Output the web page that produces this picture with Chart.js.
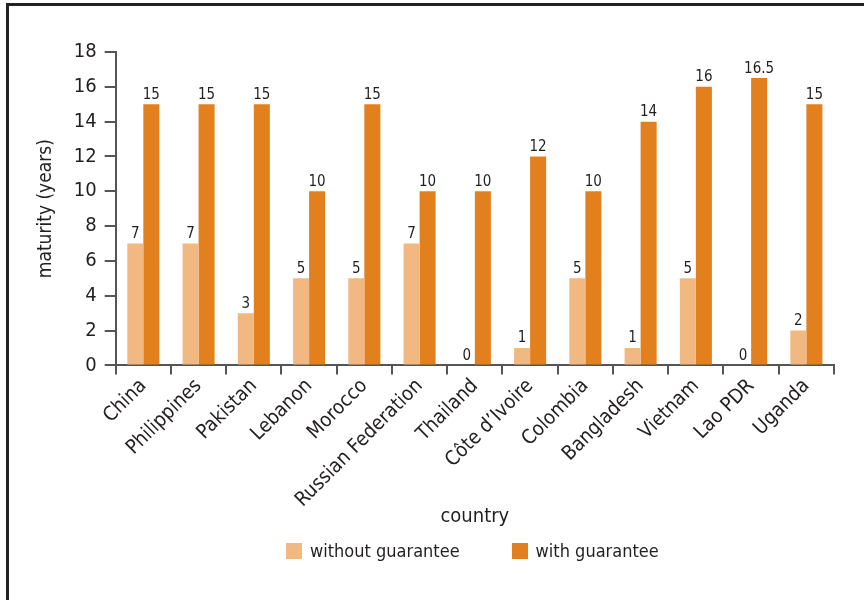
<!DOCTYPE html>
<html>
<head>
<meta charset="utf-8">
<script src="https://cdn.jsdelivr.net/npm/chart.js@4/dist/chart.umd.min.js"></script>
<style>
  html, body { margin: 0; padding: 0; background: #fff; }
  #wrap { position: relative; width: 864px; height: 600px; }
  #frame {
    position: absolute; left: 6px; top: 3px; right: 0; bottom: 0;
    border-left: 3px solid #222; border-top: 3px solid #222;
  }
  canvas { position: absolute; left: 0; top: 0; }
  #legend {
    position: absolute; left: 286px; top: 540px;
    display: flex; gap: 52px;
    font: 18px 'Liberation Sans Narrow', 'DejaVu Sans Condensed', 'Roboto', sans-serif;
    color: #231f20;
  }
  #legend .item { display: flex; align-items: center; }
  #legend .box { width: 16px; height: 16px; margin-right: 8px; }
</style>
</head>
<body>
<div id="wrap">
  <div id="frame"></div>
  <canvas id="chart" width="864" height="600"></canvas>
  <div id="legend"></div>
</div>
<script>
// данные с картинки
const countries = ['China', 'Philippines', 'Pakistan', 'Lebanon', 'Morocco', 'Russian Federation',
  'Thailand', 'Côte d\u2019Ivoire', 'Colombia', 'Bangladesh', 'Vietnam', 'Lao PDR', 'Uganda'];
const withoutGuarantee = [7, 7, 3, 5, 5, 7, 0, 1, 5, 1, 5, 0, 2];
const withGuarantee = [15, 15, 15, 10, 15, 10, 10, 12, 10, 14, 16, 16.5, 15];
const yTicks = [0, 2, 4, 6, 8, 10, 12, 14, 16, 18];

const FONT = "'Liberation Sans Narrow', 'DejaVu Sans Condensed', 'Roboto', sans-serif";
const TEXT = '#231f20';
const AXIS = '#555';

// подписи значений над столбцами
const valueLabels = {
  id: 'valueLabels',
  afterDatasetsDraw(chart) {
    const ctx = chart.ctx;
    ctx.save();
    ctx.font = '15px ' + FONT;
    ctx.fillStyle = TEXT;
    ctx.textAlign = 'center';
    ctx.textBaseline = 'bottom';
    chart.data.datasets.forEach((ds, i) => {
      chart.getDatasetMeta(i).data.forEach((bar, j) => {
        ctx.fillText(String(ds.data[j]), bar.x, bar.y - 2);
      });
    });
    ctx.restore();
  }
};

const chart = new Chart(document.getElementById('chart').getContext('2d'), {
  type: 'bar',
  data: {
    labels: countries,
    datasets: [
      { label: 'without guarantee', data: withoutGuarantee, backgroundColor: '#f2b882',
        categoryPercentage: 0.58, barPercentage: 1 },
      { label: 'with guarantee', data: withGuarantee, backgroundColor: '#e3801e',
        categoryPercentage: 0.58, barPercentage: 1 }
    ]
  },
  options: {
    responsive: false,
    animation: false,
    layout: { padding: { top: 52, right: 30, bottom: 67, left: 35 } },
    plugins: {
      legend: { display: false },
      tooltip: { enabled: false }
    },
    scales: {
      x: {
        grid: { drawOnChartArea: false, color: AXIS, tickLength: 9, lineWidth: 2, offset: true },
        border: { color: AXIS, width: 2 },
        ticks: {
          font: { family: FONT, size: 20 },
          color: TEXT,
          minRotation: 45, maxRotation: 45,
          padding: 0
        },
        title: {
          display: true, text: 'country',
          font: { family: FONT, size: 20 }, color: TEXT,
          padding: { top: -7, bottom: 4 }
        }
      },
      y: {
        min: 0, max: 18,
        afterBuildTicks(axis) { axis.ticks = yTicks.map(v => ({ value: v })); },
        grid: { drawOnChartArea: false, color: AXIS, tickLength: 11, lineWidth: 2 },
        border: { color: AXIS, width: 2 },
        ticks: {
          font: { family: FONT, size: 20 },
          color: TEXT,
          padding: 8
        },
        title: {
          display: true, text: 'maturity (years)',
          font: { family: FONT, size: 19 }, color: TEXT,
          padding: { top: 0, bottom: 8 }
        }
      }
    }
  },
  plugins: [valueLabels]
});

// легенда
const legendEl = document.getElementById('legend');
chart.data.datasets.forEach(ds => {
  const item = document.createElement('div');
  item.className = 'item';
  const box = document.createElement('span');
  box.className = 'box';
  box.style.background = ds.backgroundColor;
  const txt = document.createElement('span');
  txt.textContent = ds.label;
  item.appendChild(box);
  item.appendChild(txt);
  legendEl.appendChild(item);
});
</script>
</body>
</html>
